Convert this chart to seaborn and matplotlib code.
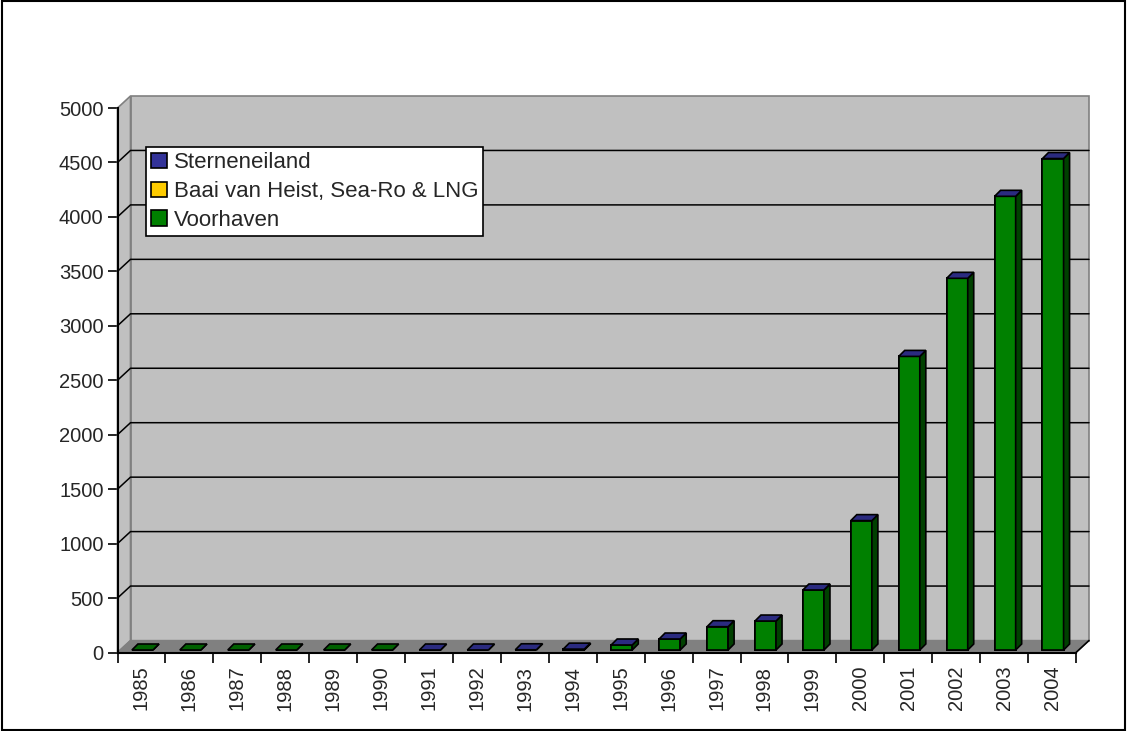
import numpy as np
import pandas as pd
import matplotlib
matplotlib.use("Agg")
import matplotlib.pyplot as plt
import seaborn as sns
from matplotlib.patches import Polygon, Rectangle, Patch
from matplotlib.transforms import offset_copy

# ---- data ----
years = ["1985", "1986", "1987", "1988", "1989", "1990", "1991", "1992", "1993", "1994",
         "1995", "1996", "1997", "1998", "1999", "2000", "2001", "2002", "2003", "2004"]
voorhaven = [0, 0, 0, 0, 0, 0, 0, 0, 2, 8, 46, 101, 214, 266, 551, 1188, 2696, 3413, 4166, 4513]
baai_van_heist = [np.nan, np.nan, np.nan, np.nan, np.nan, np.nan, 0, 0, 0, 0,
                  0, 0, 0, 0, 0, 0, 0, 0, 0, 0]
sterneneiland = [np.nan, np.nan, np.nan, np.nan, np.nan, np.nan, 0, 0, 0, 0,
                 0, 0, 0, 0, 0, 0, 0, 0, 0, 0]
series_names = ["Sterneneiland", "Baai van Heist, Sea-Ro & LNG", "Voorhaven"]
series_colors = ["#333399", "#FFCC00", "#008000"]
side_colors = ["#1f1f5c", "#997a00", "#004000"]
top_colors = ["#2b2b80", "#d9ad00", "#006000"]
yticks = [0, 500, 1000, 1500, 2000, 2500, 3000, 3500, 4000, 4500, 5000]

sns.set_style("white")
plt.rcParams["font.family"] = ["Liberation Sans", "DejaVu Sans"]

W, H = 1127, 731
fig = plt.figure(figsize=(W / 100, H / 100), dpi=100)
fig.patch.set_facecolor("white")
ax = fig.add_axes([117.5 / W, (H - 652.5) / H, (1076 - 117.5) / W, 544.5 / H])
ax.set_facecolor("none")

df = pd.DataFrame({"year": years,
                   "Voorhaven": voorhaven,
                   "Baai": baai_van_heist,
                   "Sterneneiland": sterneneiland})
df["cum_voor"] = df["Voorhaven"]
df["cum_baai"] = df["cum_voor"] + df["Baai"].fillna(0)
df["cum_top"] = df["cum_baai"] + df["Sterneneiland"].fillna(0)

ax.set_xlim(-0.5, len(years) - 0.5)
ax.set_ylim(0, 5000)

# pixel scales
p0 = ax.transData.transform((0, 0))
sx = ax.transData.transform((1, 0))[0] - p0[0]
sy = ax.transData.transform((0, 1))[1] - p0[1]
wdx, wdy = 13 / sx, 12 / sy   # wall depth in data units
bdx, bdy = 6 / sx, 6 / sy     # bar depth in data units
x0, x1 = -0.5, len(years) - 0.5
ytop = yticks[-1]

# back wall, left wall, floor
ax.add_patch(Polygon([(x0 + wdx, wdy), (x1 + wdx, wdy), (x1 + wdx, ytop + wdy), (x0 + wdx, ytop + wdy)],
                     closed=True, facecolor="#c0c0c0", edgecolor="#808080", lw=1.2, zorder=0.5, clip_on=False))
ax.add_patch(Polygon([(x0, 0), (x0 + wdx, wdy), (x0 + wdx, ytop + wdy), (x0, ytop)],
                     closed=True, facecolor="#c0c0c0", edgecolor="#808080", lw=1.2, zorder=0.6, clip_on=False))
ax.add_patch(Polygon([(x0, 0), (x1, 0), (x1 + wdx, wdy), (x0 + wdx, wdy)],
                     closed=True, facecolor="#808080", edgecolor="#808080", lw=1.0, zorder=0.6, clip_on=False))
ax.plot([x1, x1 + wdx], [0, wdy], color="black", lw=1.2, zorder=0.9, clip_on=False)
for yv in yticks[1:-1]:
    ax.plot([x0, x0 + wdx, x1 + wdx], [yv, yv + wdy, yv + wdy], color="black", lw=1.1,
            zorder=0.8, clip_on=False)

# bars: stacked (draw cumulative from top to bottom)
bar_tr = offset_copy(ax.transData, fig=fig, x=1, y=2.5, units="dots")
groups = []
for col, fc in [("cum_top", series_colors[0]), ("cum_baai", series_colors[1]), ("cum_voor", series_colors[2])]:
    n_before = len(ax.patches)
    sns.barplot(data=df, x="year", y=col, color=fc, saturation=1, width=0.44,
                edgecolor="black", linewidth=1.2, errorbar=None, ax=ax, zorder=3)
    groups.append(ax.patches[n_before:])

voor_patches = groups[2]
for i, p in enumerate(voor_patches):
    xl = p.get_x()
    w = p.get_width()
    h_voor = df["cum_voor"].iloc[i]
    h_top = df["cum_top"].iloc[i]
    if not np.isnan(df["Sterneneiland"].iloc[i]):
        tcol = top_colors[0]
    elif not np.isnan(df["Baai"].iloc[i]):
        tcol = top_colors[1]
    else:
        tcol = top_colors[2]
    for grp in groups:
        grp[i].set_transform(bar_tr)
        grp[i].set_zorder(3)
    xr = xl + w
    ax.add_patch(Polygon([(xr, 0), (xr + bdx, bdy), (xr + bdx, h_voor + bdy), (xr, h_voor)],
                         closed=True, facecolor=side_colors[2], edgecolor="black", lw=1.2,
                         transform=bar_tr, zorder=3.1, clip_on=False))
    ax.add_patch(Polygon([(xl, h_top), (xr, h_top), (xr + bdx, h_top + bdy), (xl + bdx, h_top + bdy)],
                         closed=True, facecolor=tcol, edgecolor="black", lw=1.2,
                         transform=bar_tr, zorder=3.2, clip_on=False))

# axes styling
ax.set_xlim(x0, x1)
ax.set_ylim(0, 5000)
for s in ["top", "right"]:
    ax.spines[s].set_visible(False)
for s in ["left", "bottom"]:
    ax.spines[s].set_color("black")
    ax.spines[s].set_linewidth(1.5)
    ax.spines[s].set_zorder(5)
ax.set_yticks(yticks)
ax.set_yticklabels([str(v) for v in yticks])
ax.tick_params(axis="y", direction="out", length=7.5, width=1.2, color="black",
               labelsize=14.5, pad=2.5, left=True)
ax.set_xticks(np.arange(x0, x1 + 0.01, 1.0))
ax.set_xticklabels([])
ax.set_xticks(np.arange(len(years)), minor=True)
ax.set_xticklabels(years, minor=True, rotation=90, fontsize=14.5)
ax.tick_params(axis="x", which="major", direction="out", length=7.5, width=1.2, color="black", bottom=True)
ax.tick_params(axis="x", which="minor", length=0, pad=9.5, bottom=True)
ax.set_xlabel("")
ax.set_ylabel("")
ax.grid(False)

handles = [Patch(facecolor=c, edgecolor="black", lw=1.2, label=n) for n, c in zip(series_names, series_colors)]
leg = ax.legend(handles=handles, loc="upper left", bbox_to_anchor=(146 / W, 1 - 147 / H),
                bbox_transform=fig.transFigure, frameon=True, fancybox=False, framealpha=1,
                edgecolor="black", fontsize=16, borderpad=0.24, labelspacing=0.35,
                handlelength=0.7, handleheight=0.7, handletextpad=0.3, borderaxespad=0)
leg.get_frame().set_linewidth(1.2)
leg.set_zorder(10)

fig.add_artist(Rectangle((0.0015, 0.002), 0.997, 0.996, transform=fig.transFigure,
                         fill=False, edgecolor="black", lw=1.5))

fig.savefig("out.png", dpi=100)
